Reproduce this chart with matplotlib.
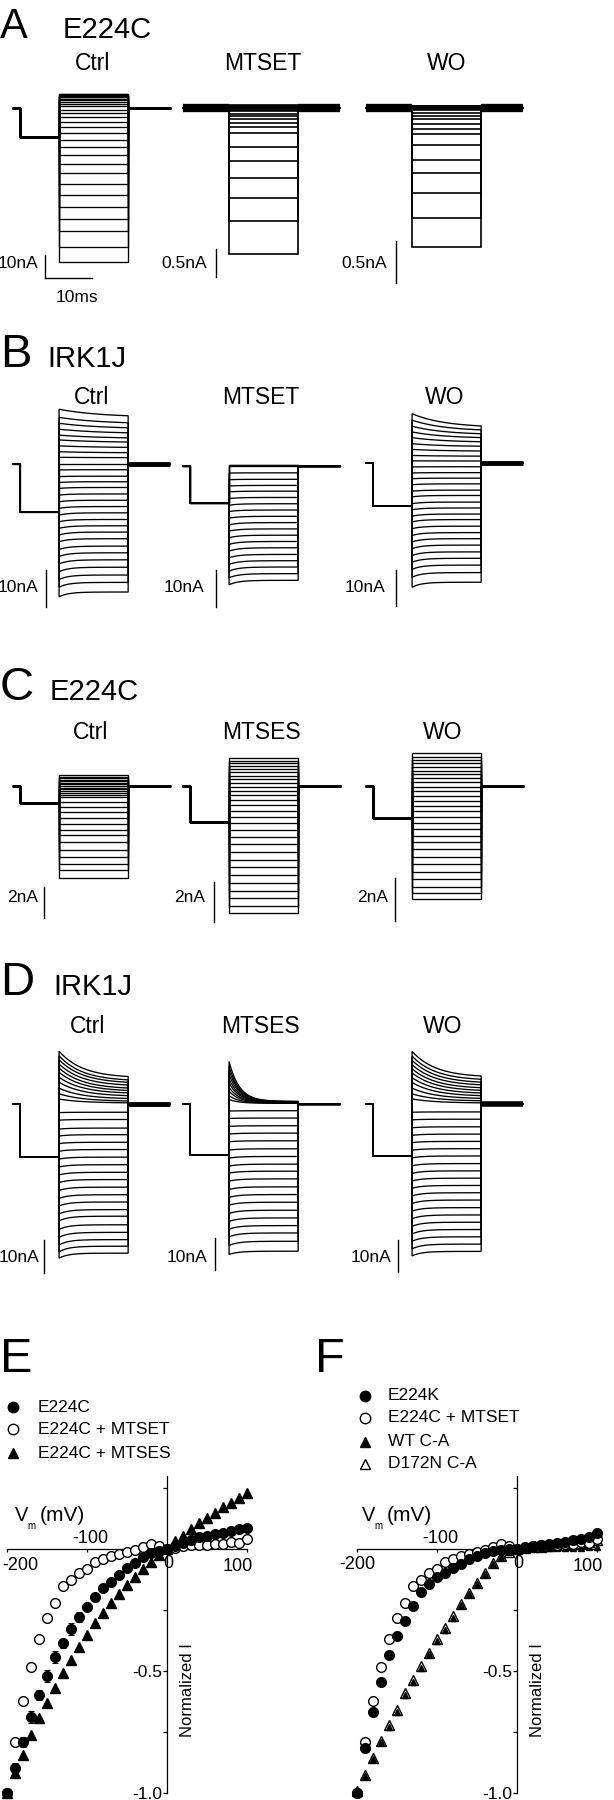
import numpy as np
import matplotlib
matplotlib.use("Agg")
import matplotlib.pyplot as plt

plt.rcParams['font.family'] = ['Liberation Sans', 'DejaVu Sans']

# ======================= DATA =======================
# voltage-clamp protocol timing (ms)
T_TOTAL, T_PRE, T_ON, T_OFF = 33.4, 1.5, 9.8, 24.5

# ---- Panel A: E224C, MTSET (currents in nA at end of each step) ----
A_ctrl_I = [-67.0, -60.4, -53.6, -48.1, -43.0, -37.7, -32.9, -28.3, -24.5, -20.6,
            -17.0, -13.8, -10.9, -8.3, -6.1, -3.9, -2.2, -0.7, 0.7, 1.9, 2.8, 3.5,
            4.1, 4.6, 5.0, 5.4, 5.7, 6.0, 6.2]
A_mtset_I = [-2.57, -1.99, -1.59, -1.23, -0.94, -0.68, -0.44, -0.34, -0.27, -0.20,
             -0.14, -0.10, -0.06, -0.03, -0.01, 0.0, 0.01, 0.02, 0.03, 0.05]
A_wo_I = [-1.67, -1.32, -1.02, -0.78, -0.63, -0.45, -0.31, -0.25, -0.19, -0.13,
          -0.095, -0.055, -0.03, -0.01, 0.0, 0.01, 0.02, 0.03]
A_pre = [-12.6, -0.03, -0.03]

# ---- Panel B: IRK1J, MTSET ----
B_ctrl_out_start = [14.8, 12.6, 11.0, 9.4, 7.8, 6.5, 4.9, 3.3, 1.8, 0.0]
B_ctrl_out_end = [12.6, 10.8, 9.5, 8.2, 6.9, 5.8, 4.4, 3.0, 1.7, 0.0]
B_ctrl_in_start = [-1.6, -3.4, -5.0, -6.6, -8.4, -10.2, -12.0, -13.8, -15.6, -17.4,
                   -19.2, -21.0, -23.1, -25.0, -27.0, -29.1, -31.2, -33.3, -35.9]
B_ctrl_in_end = [-1.55, -3.3, -4.8, -6.35, -8.1, -9.8, -11.5, -13.2, -15.0, -16.7,
                 -18.4, -20.2, -22.2, -24.0, -25.9, -27.9, -30.0, -32.0, -34.6]
B_mtset_out = [0.3, 0.15, 0.0]
B_mtset_in_start = [-1.9, -3.7, -5.4, -7.0, -8.8, -10.6, -12.3, -14.1, -15.9, -17.6,
                    -19.4, -21.2, -23.0, -24.8, -26.6, -28.4, -30.2, -32.1]
B_mtset_in_end = [-1.85, -3.6, -5.25, -6.8, -8.5, -10.2, -11.9, -13.6, -15.3, -17.0,
                  -18.7, -20.4, -22.1, -23.9, -25.6, -27.3, -29.1, -30.9]
B_wo_out_start = [13.8, 12.0, 10.3, 8.7, 7.1, 5.4, 3.8, 2.1, 0.6]
B_wo_out_end = [9.9, 8.9, 7.9, 6.9, 5.8, 4.6, 3.3, 1.9, 0.55]
B_wo_in_start = [-1.1, -2.8, -4.4, -6.1, -7.9, -9.5, -11.4, -13.1, -14.9, -16.5,
                 -18.4, -20.3, -22.1, -24.0, -25.9, -27.8, -29.8, -32.0, -34.8]
B_wo_in_end = [-1.05, -2.7, -4.25, -5.85, -7.6, -9.1, -10.95, -12.6, -14.3, -15.85,
               -17.7, -19.5, -21.2, -23.0, -24.9, -26.7, -28.6, -30.7, -33.4]
B_pre = [-13.0, -10.0, -12.1]

# ---- Panel C: E224C, MTSES ----
C_ctrl_I = [0.69, 0.6, 0.5, 0.4, 0.3, 0.2, 0.1, 0.0, -0.1, -0.22, -0.33, -0.45, -0.58,
            -0.71, -1.03, -1.35, -1.68, -2.04, -2.43, -2.86, -3.18, -3.61, -4.15,
            -4.58, -5.05, -5.44, -5.91]
C_mtses_I = [1.38, 1.27, 1.13, 1.0, 0.85, 0.68, 0.52, 0.33, 0.17, -0.03, -0.23, -0.45,
             -0.7, -0.95, -1.23, -1.53, -1.87, -2.2, -2.53, -2.9, -3.28, -3.7, -4.07,
             -4.45, -4.87, -5.23, -5.62, -5.98, -6.37]
C_wo_I = [1.52, 1.36, 1.21, 1.05, 0.9, 0.71, 0.54, 0.36, 0.17, -0.03, -0.23, -0.45,
          -0.68, -0.91, -1.16, -1.43, -1.71, -2.0, -2.31, -2.62, -2.95, -3.29, -3.63,
          -3.98, -4.34, -4.68, -4.99, -5.27]
C_pre = [-1.08, -1.78, -1.5]

# ---- Panel D: IRK1J, MTSES ----
D_ctrl_out_peak = [16.0, 14.6, 13.4, 12.1, 10.9, 9.6, 8.1, 6.6, 4.8, 3.1, 1.5]
D_ctrl_out_end = [7.9, 6.9, 6.2, 5.4, 4.5, 3.8, 3.1, 2.3, 1.5, 0.8, 0.3]
D_ctrl_in_start = [-2.6, -4.9, -7.6, -9.7, -12.0, -14.3, -16.7, -19.1, -21.5, -23.8,
                   -26.2, -28.6, -30.9, -33.3, -35.4, -38.0, -40.4, -42.7, -44.8, -46.7]
D_ctrl_in_end = [-2.5, -4.7, -7.3, -9.3, -11.6, -13.8, -16.1, -18.4, -20.7, -22.9,
                 -25.2, -27.5, -29.7, -32.0, -34.0, -36.6, -38.9, -41.1, -43.1, -45.2]
D_mtses_out_peak = [13.3, 11.8, 10.5, 9.2, 7.8, 6.6, 5.2, 4.0, 2.6, 1.4]
D_mtses_out_end = [0.8, 0.75, 0.7, 0.65, 0.6, 0.55, 0.5, 0.4, 0.3, 0.2]
D_mtses_in_start = [-2.2, -4.5, -7.0, -9.4, -11.8, -14.4, -16.9, -19.4, -21.6, -24.1,
                    -26.7, -29.2, -31.6, -34.2, -36.7, -39.1, -41.5, -44.2, -47.0]
D_mtses_in_end = [-2.1, -4.4, -6.8, -9.1, -11.5, -14.0, -16.4, -18.8, -21.0, -23.4,
                  -25.9, -28.3, -30.7, -33.2, -35.6, -38.0, -40.3, -42.9, -46.0]
D_wo_out_peak = [16.6, 15.1, 13.8, 12.4, 11.1, 9.8, 8.3, 6.8, 5.0, 3.2, 1.6]
D_wo_out_end = [8.4, 7.4, 6.5, 5.7, 4.8, 4.0, 3.2, 2.4, 1.6, 0.9, 0.3]
D_wo_in_start = [-2.6, -5.0, -7.5, -9.9, -12.2, -14.6, -17.0, -19.5, -21.9, -24.3,
                 -26.6, -29.0, -31.4, -33.8, -36.2, -38.6, -41.0, -43.3, -45.7, -47.9]
D_wo_in_end = [-2.5, -4.8, -7.2, -9.5, -11.8, -14.1, -16.4, -18.8, -21.1, -23.4,
               -25.7, -28.0, -30.3, -32.7, -35.0, -37.3, -39.6, -41.9, -44.2, -46.5]
D_pre = [-16.0, -16.0, -16.5]

# ---- Panels E / F: normalized I-V ----
Vm = list(range(-200, 101, 10))
E_e224c = [-1.0, -0.899, -0.79, -0.687, -0.598, -0.519, -0.444, -0.387, -0.328, -0.28,
           -0.236, -0.195, -0.161, -0.134, -0.107, -0.079, -0.056, -0.031, -0.018, -0.008,
           0.0, 0.012, 0.023, 0.037, 0.048, 0.053, 0.061, 0.067, 0.075, 0.083, 0.086]
E_e224c_err = [0.0, 0.02, 0.02, 0.025, 0.02, 0.025, 0.025, 0.02, 0.025, 0.02,
               0.015, 0.012, 0.01, 0.01, 0.01, 0.008, 0.008, 0.006, 0.005, 0.005,
               0.0, 0.004, 0.004, 0.005, 0.005, 0.005, 0.006, 0.006, 0.006, 0.007, 0.007]
E_mtset = [-1.0, -0.792, -0.622, -0.485, -0.37, -0.284, -0.22, -0.15, -0.127, -0.097,
           -0.083, -0.055, -0.04, -0.03, -0.022, -0.012, -0.005, 0.01, 0.02, 0.012,
           0.0, 0.005, 0.012, 0.016, 0.016, 0.018, 0.02, 0.022, 0.03, 0.026, 0.039]
E_mtses = [-1.0, -0.918, -0.844, -0.762, -0.694, -0.633, -0.571, -0.51, -0.455, -0.4,
           -0.353, -0.305, -0.262, -0.221, -0.183, -0.148, -0.113, -0.083, -0.052, -0.025,
           0.0, 0.034, 0.053, 0.08, 0.105, 0.128, 0.149, 0.171, 0.187, 0.208, 0.228]
F_e224k = [-1.0, -0.816, -0.668, -0.545, -0.434, -0.357, -0.295, -0.234, -0.176, -0.143,
           -0.115, -0.098, -0.078, -0.061, -0.041, -0.027, -0.018, -0.01, -0.005, -0.002,
           0.0, 0.007, 0.012, 0.016, 0.02, 0.024, 0.03, 0.036, 0.043, 0.05, 0.064]
F_wt_ca = [-1.0, -0.93, -0.86, -0.79, -0.73, -0.668, -0.598, -0.545, -0.489, -0.431,
           -0.376, -0.33, -0.281, -0.231, -0.186, -0.143, -0.102, -0.061, -0.034, -0.014,
           0.0, 0.002, 0.003, 0.004, 0.004, 0.005, 0.005, 0.006, 0.006, 0.007, 0.008]
F_d172n_ca = [-0.99, -0.925, -0.855, -0.785, -0.72, -0.66, -0.59, -0.535, -0.48, -0.425,
              -0.37, -0.325, -0.275, -0.225, -0.18, -0.138, -0.098, -0.058, -0.03, -0.012,
              0.0, 0.005, 0.008, 0.01, 0.012, 0.015, 0.018, 0.022, 0.026, 0.03, 0.035]
IV_YTICKS = [0.25, 0.0, -0.25, -0.5, -0.75, -1.0]
IV_YTICKLABELS = ['', '', '', '-0.5', '', '-1.0']

# ======================= FIGURE =======================
W, H = 614, 1800
fig = plt.figure(figsize=(6.14, 18.0), dpi=100)
fig.patch.set_facecolor('white')

ov = fig.add_axes([0, 0, 1, 1])
ov.set_xlim(0, W)
ov.set_ylim(H, 0)
ov.axis('off')

PX_PER_MS = 4.7
LW = 0.95


def trace_axes(x0, y_hold, px_per_nA, imin, imax):
    width = T_TOTAL * PX_PER_MS
    top = y_hold - imax * px_per_nA
    height = (imax - imin) * px_per_nA
    ax = fig.add_axes([x0 / W, 1 - (top + height) / H, width / W, height / H])
    ax.set_xlim(0, T_TOTAL)
    ax.set_ylim(imin, imax)
    ax.axis('off')
    return ax


def family(ax, pre, starts, ends=None, tau=0.0, lw=LW):
    if ends is None:
        ends = starts
    ts = np.linspace(T_ON, T_OFF, 150)
    for s, e in zip(starts, ends):
        if tau > 0:
            seg = e + (s - e) * np.exp(-(ts - T_ON) / tau)
        else:
            seg = np.full(ts.shape, e)
        t = np.r_[0, T_PRE, T_PRE, T_ON, ts, T_OFF, T_TOTAL]
        i = np.r_[0, 0, pre, pre, seg, 0, 0]
        ax.plot(t, i, color='k', lw=lw, clip_on=False, solid_joinstyle='miter')


def band(ax, lw_pre=None, lw_tail=None):
    if lw_pre:
        ax.plot([0, T_ON], [0, 0], color='k', lw=lw_pre, clip_on=False, solid_capstyle='butt')
    if lw_tail:
        ax.plot([T_OFF, T_TOTAL], [0, 0], color='k', lw=lw_tail, clip_on=False,
                solid_capstyle='butt')


def vbar(ax, t, bottom, length):
    ax.plot([t, t], [bottom, bottom + length], color='k', lw=1.0, clip_on=False)


X0 = [13, 183, 366]

# ---------- A ----------
ax = trace_axes(X0[0], 108, 2.3, -76, 8)
family(ax, A_pre[0], A_ctrl_I)
vbar(ax, 6.8, -73.9, 10)
ax.plot([6.8, 16.8], [-73.9, -73.9], color='k', lw=1.0, clip_on=False)

ax = trace_axes(X0[1], 108, 56.7, -3.1, 0.4)
family(ax, A_pre[1], A_mtset_I, lw=1.2)
band(ax, 6.0, 6.0)
vbar(ax, 7.0, -2.98, 0.5)

ax = trace_axes(X0[2], 108, 83.3, -2.2, 0.3)
family(ax, A_pre[2], A_wo_I, lw=1.2)
band(ax, 6.0, 6.0)
vbar(ax, 6.4, -2.10, 0.5)

# ---------- B ----------
ax = trace_axes(X0[0], 464, 3.7, -40, 16)
family(ax, B_pre[0], B_ctrl_out_start, B_ctrl_out_end, tau=9.0)
family(ax, B_pre[0], B_ctrl_in_start, B_ctrl_in_end, tau=2.0)
band(ax, None, 3.5)
vbar(ax, 7.0, -38.6, 10)

ax = trace_axes(X0[1], 466, 3.7, -40, 2)
family(ax, B_pre[1], B_mtset_out)
family(ax, B_pre[1], B_mtset_in_start, B_mtset_in_end, tau=2.0)
band(ax, None, 1.8)
vbar(ax, 7.0, -38.1, 10)

ax = trace_axes(X0[2], 463, 3.57, -41, 15)
family(ax, B_pre[2], B_wo_out_start, B_wo_out_end, tau=7.0)
family(ax, B_pre[2], B_wo_in_start, B_wo_in_end, tau=2.0)
band(ax, None, 3.5)
vbar(ax, 6.4, -40.1, 10)

# ---------- C ----------
ax = trace_axes(X0[0], 786, 15.5, -9, 1)
family(ax, C_pre[0], C_ctrl_I)
vbar(ax, 6.6, -8.5, 2)

ax = trace_axes(X0[1], 786, 20.0, -7, 2)
family(ax, C_pre[1], C_mtses_I)
vbar(ax, 6.6, -6.8, 2)

ax = trace_axes(X0[2], 786, 21.5, -7, 2)
family(ax, C_pre[2], C_wo_I)
vbar(ax, 6.2, -6.3, 2)

# ---------- D ----------
ax = trace_axes(X0[0], 1104, 3.3, -53, 17)
family(ax, D_pre[0], D_ctrl_out_peak, D_ctrl_out_end, tau=5.0)
family(ax, D_pre[0], D_ctrl_in_start, D_ctrl_in_end, tau=2.0)
band(ax, None, 3.5)
vbar(ax, 6.6, -51.2, 10)

ax = trace_axes(X0[1], 1104, 3.2, -53, 14)
family(ax, D_pre[1], D_mtses_out_peak, D_mtses_out_end, tau=2.2)
family(ax, D_pre[1], D_mtses_in_start, D_mtses_in_end, tau=2.0)
band(ax, None, 1.8)
vbar(ax, 6.8, -51.9, 10)

ax = trace_axes(X0[2], 1104, 3.17, -54, 17)
family(ax, D_pre[2], D_wo_out_peak, D_wo_out_end, tau=5.0)
family(ax, D_pre[2], D_wo_in_start, D_wo_in_end, tau=2.0)
band(ax, None, 4.0)
vbar(ax, 6.8, -53.0, 10)

# ---------- texts for trace panels ----------
letters = [('A', 0, 38, 30), ('B', 0, 367, 34), ('C', 0, 700, 34), ('D', 0, 995, 34),
           ('E', 0, 1372, 35), ('F', 315, 1372, 35)]
for s, x, y, fs in letters:
    ov.text(x, y, s, fontsize=fs, ha='left', va='baseline')

subtitles = [('E224C', 63, 38), ('IRK1J', 47, 367), ('E224C', 50, 700), ('IRK1J', 53, 995)]
for s, x, y in subtitles:
    ov.text(x, y, s, fontsize=21, ha='left', va='baseline')

col_titles = [(['Ctrl', 'MTSET', 'WO'], [93, 263, 447], 70),
              (['Ctrl', 'MTSET', 'WO'], [92, 261, 445], 404),
              (['Ctrl', 'MTSES', 'WO'], [91, 261, 443], 739),
              (['Ctrl', 'MTSES', 'WO'], [88, 260, 443], 1033)]
for names, xs, y in col_titles:
    for s, x in zip(names, xs):
        ov.text(x, y, s, fontsize=16.5, ha='center', va='baseline')

scale_labels = [('10nA', 38, 263), ('0.5nA', 207, 263), ('0.5nA', 387, 263),
                ('10nA', 38, 587), ('10nA', 204, 587), ('10nA', 385, 587),
                ('2nA', 38, 898), ('2nA', 205, 898), ('2nA', 388, 898),
                ('10nA', 39, 1258), ('10nA', 207, 1258), ('10nA', 391, 1258)]
for s, x, y in scale_labels:
    ov.text(x, y, s, fontsize=12.5, ha='right', va='center')
ov.text(77, 298, '10ms', fontsize=12.5, ha='center', va='center')

# ---------- I-V panels ----------
Y0_IV = 1549
PXMV, PXU = 0.8, 244


def iv_axes(xzero):
    xmin, xmax, ymin, ymax = -212, 118, -1.04, 0.31
    left = xzero + PXMV * xmin
    width = PXMV * (xmax - xmin)
    top = Y0_IV - PXU * ymax
    height = PXU * (ymax - ymin)
    ax = fig.add_axes([left / W, 1 - (top + height) / H, width / W, height / H])
    ax.set_xlim(xmin, xmax)
    ax.set_ylim(ymin, ymax)
    ax.patch.set_visible(False)
    for s in ('top', 'right'):
        ax.spines[s].set_visible(False)
    ax.spines['left'].set_position(('data', 0))
    ax.spines['bottom'].set_position(('data', 0))
    ax.spines['left'].set_bounds(-1.0, 0.3)
    ax.spines['bottom'].set_bounds(-200, 100)
    for s in ('left', 'bottom'):
        ax.spines[s].set_linewidth(0.9)
    ax.set_yticks(IV_YTICKS)
    ax.set_yticklabels(IV_YTICKLABELS, fontsize=12.5)
    ax.tick_params(axis='y', direction='out', length=3, width=0.9, pad=0.5)
    ax.set_xticks([-200, -100, 0, 100])
    ax.set_xticklabels([])
    ax.tick_params(axis='x', direction='out', length=2.5, width=0.9)
    ax.text(-96, 0.045, '-100', fontsize=13, ha='center', va='center')
    ax.text(1.25, -0.06, '0', fontsize=13, ha='center', va='center')
    ax.text(88.75, -0.07, '100', fontsize=13, ha='center', va='center')
    ax.text(25, -0.578, 'Normalized I', fontsize=12, rotation=90, ha='center', va='center')
    return ax


MS = 7
axE = iv_axes(167)
axE.text(-183.75, -0.066, '-200', fontsize=13, ha='center', va='center')
axE.plot(Vm, E_mtses, '^', color='k', ms=MS + 0.5, clip_on=False, zorder=3)
axE.plot(Vm, E_mtset, 'o', mfc='white', mec='k', mew=1.0, ms=MS, clip_on=False, zorder=4)
axE.errorbar(Vm, E_e224c, yerr=E_e224c_err, fmt='o', color='k', ms=MS, elinewidth=0.8,
             capsize=2, capthick=0.8, clip_on=False, zorder=5)

axF = iv_axes(517)
axF.text(-200, -0.062, '-200', fontsize=13, ha='center', va='center')
axF.plot(Vm, F_d172n_ca, '^', mfc='white', mec='k', mew=1.0, ms=MS + 0.5, clip_on=False, zorder=3)
axF.plot(Vm, F_wt_ca, '^', color='k', ms=MS - 2.5, clip_on=False, zorder=4)
axF.plot(Vm, E_mtset, 'o', mfc='white', mec='k', mew=1.0, ms=MS, clip_on=False, zorder=4)
axF.plot(Vm, F_e224k, 'o', color='k', ms=MS, clip_on=False, zorder=5)

# V_m (mV) labels
for xv in (15, 362):
    ov.text(xv, 1521, 'V', fontsize=14.5, ha='left', va='baseline')
    ov.text(xv + 12.5, 1529, 'm', fontsize=7, ha='left', va='baseline')
    ov.text(xv + 25, 1521, '(mV)', fontsize=15, ha='left', va='baseline')

# legends
legE = [('o', 'k', 'k', 'E224C', 1407), ('o', 'white', 'k', 'E224C + MTSET', 1429),
        ('^', 'k', 'k', 'E224C + MTSES', 1453)]
for m, fc, ec, lab, y in legE:
    ov.plot([13], [y], m, mfc=fc, mec=ec, mew=1.0, ms=7.5)
    ov.text(38, y, lab, fontsize=12.5, ha='left', va='center')
legF = [('o', 'k', 'k', 'E224K', 1396), ('o', 'white', 'k', 'E224C + MTSET', 1418),
        ('^', 'k', 'k', 'WT C-A', 1442), ('^', 'white', 'k', 'D172N C-A', 1464)]
for m, fc, ec, lab, y in legF:
    ov.plot([365], [y], m, mfc=fc, mec=ec, mew=1.0, ms=7.5)
    ov.text(388, y, lab, fontsize=12.5, ha='left', va='center')

fig.savefig('out.png', dpi=100, facecolor='white')
